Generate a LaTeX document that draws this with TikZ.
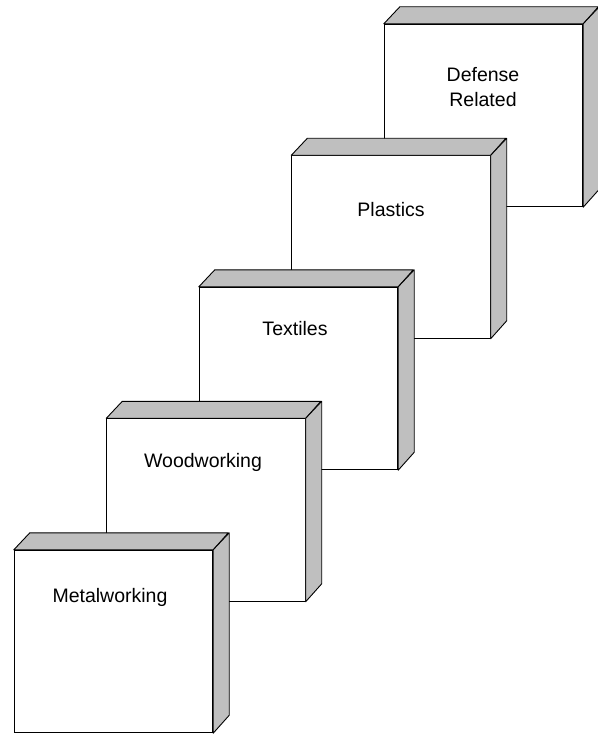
\documentclass[tikz,border=0pt]{standalone}
\usepackage{fontspec}
\setmainfont{Liberation Sans}
\tikzset{
  front/.style={draw=black, fill=white, line width=0.9pt, rectangle, minimum width=198.5pt, minimum height=182.5pt, inner sep=0pt},
  face/.style={draw=black, fill=black!25, line width=0.9pt, line join=round},
  lbl/.style={font=\fontsize{19.5}{25}\selectfont, align=center, inner sep=0pt}
}
\newcommand{\blockcube}[3]{%
  \node[front] (#1) at (#2,#3) {};
  \filldraw[face] (#1.north west) -- ++(16,-17) -- ++(198.5,0) -- (#1.north east) -- cycle;
  \filldraw[face] (#1.north east) -- ++(16,-17) -- ++(0,182.5) -- (#1.south east) -- cycle;
}
\begin{document}
\begin{tikzpicture}[x=1pt,y=-1pt]
\useasboundingbox (0,0) rectangle (597,735);
\blockcube{def}{483.5}{115.5}
\node[lbl] (deft) at (483,87.5) {Defense\\Related};
\blockcube{pla}{391}{247}
\node[lbl] (plat) at (391,209.5) {Plastics};
\blockcube{tex}{298.5}{378.5}
\node[lbl] (text) at (295,328.5) {Textiles};
\blockcube{woo}{206}{510}
\node[lbl] (woot) at (203,462) {Woodworking};
\blockcube{met}{113.5}{641.5}
\node[lbl] (mett) at (110,597.5) {Metalworking};
\end{tikzpicture}
\end{document}
